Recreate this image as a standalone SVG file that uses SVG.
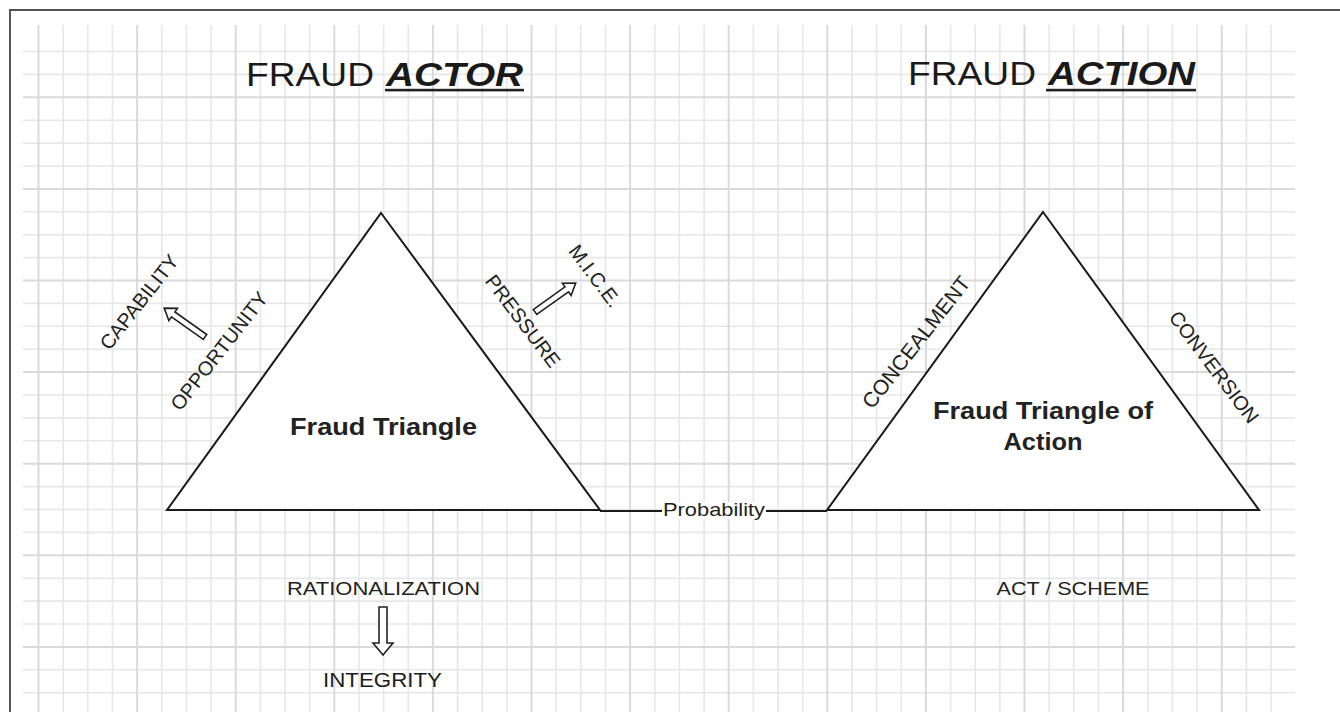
<svg xmlns="http://www.w3.org/2000/svg" width="1340" height="712" viewBox="0 0 1340 712">
  <style>
    text { font-family: "Liberation Sans", Arial, sans-serif; fill: #222; }
    .title { font-size: 34px; fill: #1a1a1a; }
    .title-em { font-size: 34px; font-weight: bold; font-style: italic; fill: #1a1a1a; }
    .label { font-size: 19px; }
    .side { font-size: 20px; }
    .big { font-size: 21px; fill: #1c1c1c; }
    .node-title { font-size: 23px; font-weight: bold; }
    .mid { text-anchor: middle; }
    .tri { fill: #fff; stroke: #1a1a1a; stroke-width: 2; stroke-linejoin: miter; }
    .link { fill: none; stroke: #1a1a1a; stroke-width: 2; }
    .block-arrow { fill: #fff; stroke: #222; stroke-width: 1.6; stroke-linejoin: miter; }
    .minor { stroke: #e6e7ea; stroke-width: 1.6; fill: none; }
    .major { stroke: #d9dadd; stroke-width: 2; fill: none; }
  </style>
  <defs>
    <!-- hollow block arrow pointing along +x, length 50 -->
    <path id="hollow-arrow" d="M0 -3 H39 V-7.5 L50 0 L39 7.5 V3 H0 Z"/>
  </defs>

  <rect width="1340" height="712" fill="#fff"/>

  <!-- squared paper background -->
  <g id="grid">
    <path class="minor" d="M63.2 25V712M87.8 25V712M112.5 25V712M161.8 25V712M186.4 25V712M211.1 25V712M260.4 25V712M285 25V712M309.7 25V712M359 25V712M383.6 25V712M408.3 25V712M457.6 25V712M482.2 25V712M506.9 25V712M556.2 25V712M580.8 25V712M605.5 25V712M654.8 25V712M679.4 25V712M704.1 25V712M753.4 25V712M778 25V712M802.7 25V712M852 25V712M876.6 25V712M901.3 25V712M950.6 25V712M975.2 25V712M999.9 25V712M1049.2 25V712M1073.8 25V712M1098.5 25V712M1147.8 25V712M1172.4 25V712M1197.1 25V712M1246.4 25V712M1271 25V712"/>
    <path class="minor" d="M23 51.5H1295M23 74.4H1295M23 120.2H1295M23 143.1H1295M23 166H1295M23 211.8H1295M23 234.7H1295M23 257.6H1295M23 303.4H1295M23 326.3H1295M23 349.2H1295M23 395H1295M23 417.9H1295M23 440.8H1295M23 486.6H1295M23 509.5H1295M23 532.4H1295M23 578.2H1295M23 601.1H1295M23 624H1295M23 669.8H1295M23 692.7H1295"/>
    <path class="major" d="M38.5 25V712M137.1 25V712M235.7 25V712M334.3 25V712M432.9 25V712M531.5 25V712M630.1 25V712M728.7 25V712M827.3 25V712M925.9 25V712M1024.5 25V712M1123.1 25V712M1221.7 25V712"/>
    <path class="major" d="M23 97.3H1295M23 188.9H1295M23 280.5H1295M23 372.1H1295M23 463.7H1295M23 555.3H1295M23 646.9H1295"/>
  </g>

  <!-- frame -->
  <path d="M10 712V10H1340" fill="none" stroke="#555" stroke-width="2"/>

  <!-- headings -->
  <g id="title-actor">
    <text class="title" x="246" y="86" textLength="128" lengthAdjust="spacingAndGlyphs">FRAUD</text>
    <text class="title-em" x="386" y="86" textLength="137" lengthAdjust="spacingAndGlyphs">ACTOR</text>
    <rect x="385" y="88.8" width="139" height="2.6" fill="#222"/>
  </g>
  <g id="title-action">
    <text class="title" x="908" y="85" textLength="128" lengthAdjust="spacingAndGlyphs">FRAUD</text>
    <text class="title-em" x="1048" y="85" textLength="147" lengthAdjust="spacingAndGlyphs">ACTION</text>
    <rect x="1046" y="88.8" width="150" height="2.6" fill="#222"/>
  </g>

  <!-- connectors -->
  <g id="connectors">
    <path class="link" d="M600 511H827"/>
    <use href="#hollow-arrow" class="block-arrow" transform="translate(205 337) rotate(-144.7)"/>
    <use href="#hollow-arrow" class="block-arrow" transform="translate(535 312) rotate(-35.5)"/>
    <path class="block-arrow" d="M379 607H387V643H393L383 655L373 643H379Z"/>
  </g>

  <!-- actor triangle -->
  <g id="fraud-triangle">
    <polygon class="tri" points="381,213 600,510 167,510"/>
    <text class="node-title mid" x="383.5" y="435" textLength="187" lengthAdjust="spacingAndGlyphs">Fraud Triangle</text>
  </g>

  <!-- action triangle -->
  <g id="fraud-triangle-of-action">
    <polygon class="tri" points="1043,212 1259,510 827,510"/>
    <text class="node-title mid" x="1043" y="419" textLength="220" lengthAdjust="spacingAndGlyphs">Fraud Triangle of</text>
    <text class="node-title mid" x="1043" y="450" textLength="79" lengthAdjust="spacingAndGlyphs">Action</text>
  </g>

  <!-- probability label on the link -->
  <g id="probability">
    <rect x="662" y="502" width="104" height="17" fill="#fff"/>
    <text class="label mid" x="714" y="515.5" textLength="102" lengthAdjust="spacingAndGlyphs">Probability</text>
  </g>

  <!-- side labels -->
  <g id="capability">
    <text class="side mid" transform="translate(139 302) rotate(-52)" y="7">CAPABILITY</text>
  </g>
  <g id="opportunity">
    <text class="side mid" transform="translate(219 351) rotate(-52)" y="7">OPPORTUNITY</text>
  </g>
  <g id="pressure">
    <text class="side mid" transform="translate(523 321) rotate(53)" y="7">PRESSURE</text>
  </g>
  <g id="mice">
    <text class="side mid" transform="translate(595 276) rotate(53)" y="7">M.I.C.E.</text>
  </g>
  <g id="concealment">
    <text class="side mid" style="font-size:21px" transform="translate(916 342) rotate(-52)" y="7.5">CONCEALMENT</text>
  </g>
  <g id="conversion">
    <text class="side mid" transform="translate(1214 367) rotate(53)" y="7">CONVERSION</text>
  </g>

  <!-- base labels -->
  <g id="rationalization">
    <text class="label mid" x="383.5" y="595" textLength="193" lengthAdjust="spacingAndGlyphs">RATIONALIZATION</text>
  </g>
  <g id="integrity">
    <text class="big mid" x="382.5" y="687" textLength="119" lengthAdjust="spacingAndGlyphs">INTEGRITY</text>
  </g>
  <g id="act-scheme">
    <text class="label mid" x="1073" y="595" textLength="153" lengthAdjust="spacingAndGlyphs">ACT / SCHEME</text>
  </g>
</svg>
